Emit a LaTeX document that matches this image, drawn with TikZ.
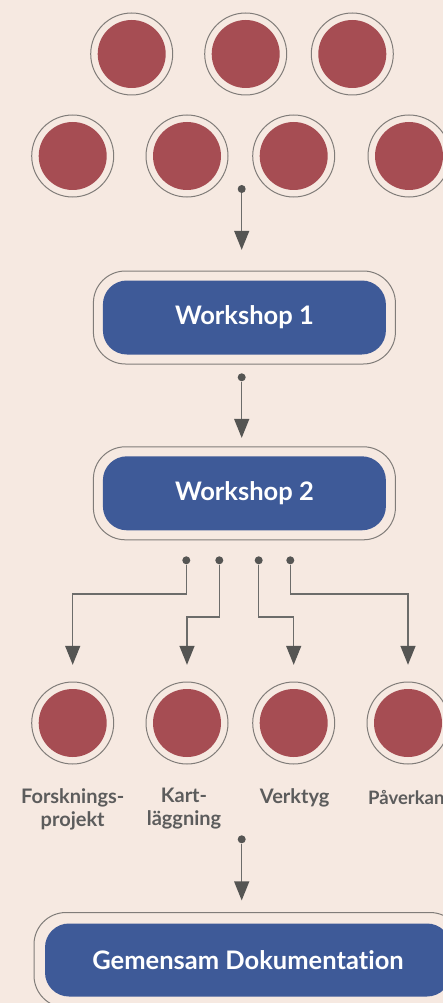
\documentclass[tikz,border=0pt]{standalone}
\usepackage{fontspec}
\newfontfamily\latofont{Lato}[Ligatures=CommonOff]
\usetikzlibrary{arrows.meta,positioning}

\definecolor{paper}{RGB}{246,233,225}
\definecolor{blobred}{RGB}{166,77,83}
\definecolor{pillblue}{RGB}{62,90,152}
\definecolor{ringgray}{RGB}{128,124,121}
\definecolor{wiregray}{RGB}{108,108,106}
\definecolor{headgray}{RGB}{85,85,83}
\definecolor{labgray}{RGB}{92,92,92}

\tikzset{
  ring/.style={circle,draw=ringgray,line width=1pt,minimum size=82pt,inner sep=0pt},
  blob/.style={circle,fill=blobred,minimum size=68pt,inner sep=0pt},
  pillring/.style={rectangle,rounded corners=32pt,draw=ringgray,line width=1pt,inner sep=0pt},
  pill/.style={rectangle,rounded corners=24pt,fill=pillblue,text=white,inner sep=0pt,
    font=\latofont\bfseries\fontsize{25.5}{30}\selectfont},
  startdot/.style={circle,fill=headgray,inner sep=0pt,minimum size=8pt},
  wire/.style={draw=wiregray,line width=1.4pt,
    -{Triangle[width=15pt,length=19pt,color=headgray]}},
  lab/.style={text=labgray,align=center,inner sep=0pt,
    font=\latofont\bfseries\fontsize{20}{23}\selectfont}
}

\begin{document}
\begin{tikzpicture}[x=1pt,y=-1pt]
  \useasboundingbox (0,0) rectangle (443,1003);
  \clip (0,0) rectangle (443,1003);
  \fill[paper] (0,0) rectangle (443,1003);

  % the seven starting circles
  \foreach \n/\x/\y in {a1/131.7/54, a2/245.7/54, a3/352.3/54,
                         a4/72.7/156, a5/187/156, a6/293.7/156, a7/409/156} {
    \node[ring] (\n) at (\x,\y) {};
    \node[blob] (\n in) at (\n) {};
  }

  % the two workshops
  \node[pillring,minimum width=302pt,minimum height=93pt] (w1o) at (244.4,317.5) {};
  \node[pill,minimum width=283pt,minimum height=74pt] (w1) at (w1o) {Workshop 1};
  \node[pillring,minimum width=302pt,minimum height=93pt] (w2o) at (244.4,493.3) {};
  \node[pill,minimum width=283pt,minimum height=74pt] (w2) at (w2o) {Workshop 2};

  % the four results
  \foreach \n/\x in {c1/72.7, c2/187, c3/293.7, c4/408} {
    \node[ring] (\n) at (\x,723) {};
    \node[blob] (\n in) at (\n) {};
  }
  \node[lab] (l1) at (72.7,809) {Forsknings-\\projekt};
  \node[lab] (l2) at (184,809) {Kart-\\läggning};
  \node[lab] (l3) at (294.7,798) {Verktyg};
  \node[lab,anchor=west,font=\latofont\bfseries\fontsize{18.5}{23}\selectfont] (l4) at (368,797) {Påverkan};

  % the documentation
  \node[pillring,minimum width=428pt,minimum height=95pt] (go) at (248,960) {};
  \node[pill,minimum width=406pt,minimum height=73pt] (g) at (go) {Gemensam Dokumentation};

  % arrows
  \node[startdot] (s0) at (241.7,189) {};
  \node[startdot] (s1) at (241.7,377.3) {};
  \node[startdot] (s2) at (241.7,839.3) {};
  \draw[wire,shorten >=20.7pt] (s0) -- (s0 |- w1o.north);
  \draw[wire,shorten >=8.4pt] (s1) -- (s1 |- w2o.north);
  \draw[wire,shorten >=11.6pt] (s2) -- (s2 |- go.north);

  \coordinate (k1) at (0,594);
  \coordinate (k2) at (0,617);
  \foreach \s/\x/\k/\c in {b1/186.3/k1/c1, b2/219.3/k2/c2, b3/258.7/k2/c3, b4/290.3/k1/c4} {
    \node[startdot] (\s) at (\x,560.3) {};
    \draw[wire,shorten >=16.7pt] (\s) -- (\s |- \k) -| (\c.north);
  }
\end{tikzpicture}
\end{document}
